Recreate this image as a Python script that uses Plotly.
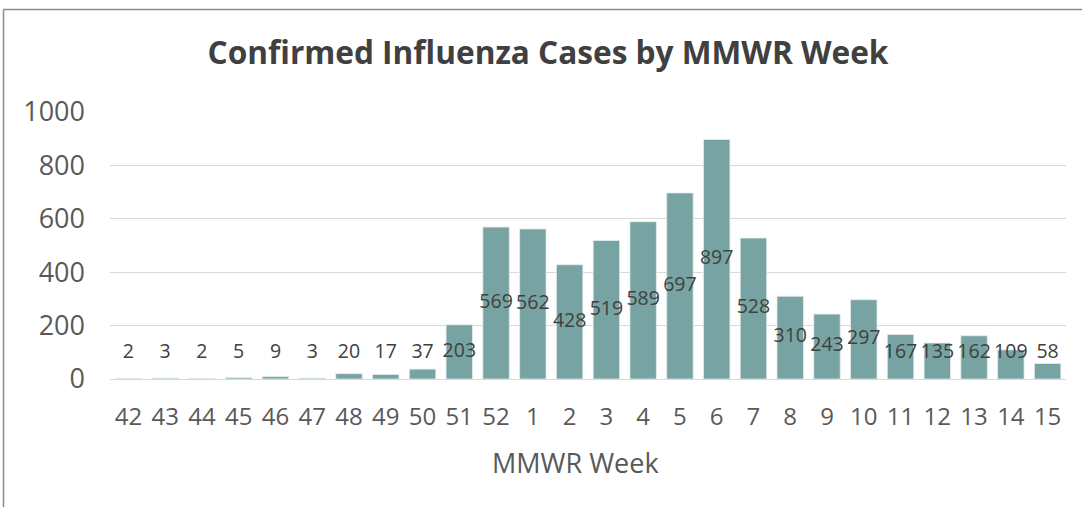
import plotly.graph_objects as go

# ---- data ----
weeks = ["42", "43", "44", "45", "46", "47", "48", "49", "50", "51", "52",
         "1", "2", "3", "4", "5", "6", "7", "8", "9", "10", "11", "12", "13", "14", "15"]
cases = [2, 3, 2, 5, 9, 3, 20, 17, 37, 203, 569,
         562, 428, 519, 589, 697, 897, 528, 310, 243, 297, 167, 135, 162, 109, 58]
y_ticks = [0, 200, 400, 600, 800, 1000]

title_text = "Confirmed Influenza Cases by MMWR Week"
x_title = "MMWR Week"

# ---- style ----
BAR_COLOR = "#77A3A2"
TEXT = "#595959"
DARK = "#404040"
GRID = "#D9D9D9"
FONT = "Open Sans"
LABEL_MIN = 97  # labels are centred in the bar, but never lower than this

W, H = 1082, 507
ML, MR, MT, MB = 110, 16, 112, 128
PW, PH = W - ML - MR, H - MT - MB


def px_to_paper_x(px):
    return (px - ML) / PW


def px_to_paper_y(py):
    return (H - MB - py) / PH


label_y = [max(v / 2, LABEL_MIN) for v in cases]

fig = go.Figure()
fig.add_trace(go.Bar(
    x=weeks, y=cases,
    marker=dict(color=BAR_COLOR, line=dict(color="#E6EEEE", width=0.8)),
    hoverinfo="x+y", showlegend=False,
))
fig.add_trace(go.Scatter(
    x=weeks, y=label_y, mode="text",
    text=[str(v) for v in cases],
    textposition="middle center",
    textfont=dict(family=FONT, size=19.5, color=DARK),
    hoverinfo="skip", showlegend=False,
))

fig.update_layout(
    width=W, height=H,
    margin=dict(l=ML, r=MR, t=MT, b=MB, autoexpand=False),
    plot_bgcolor="white", paper_bgcolor="white",
    bargap=0.28,
    title=dict(text=f"<b>{title_text}</b>", x=548 / W, xref="container", xanchor="center",
               y=1 - 53 / H, yref="container", yanchor="middle",
               font=dict(family=FONT, size=31.6, color=DARK)),
    xaxis=dict(type="category", categoryorder="array", categoryarray=weeks,
               range=[-0.5, len(weeks) - 0.5],
               showgrid=False, showline=False, ticks="", automargin=False,
               tickfont=dict(family=FONT, size=24, color=TEXT),
               ticklabelstandoff=21),
    yaxis=dict(range=[0, 1000], tickvals=y_ticks, showgrid=True, gridcolor=GRID,
               gridwidth=1.3, zeroline=True, zerolinecolor=GRID, zerolinewidth=1.3,
               showline=False, ticks="", automargin=False,
               tickfont=dict(family=FONT, size=27, color=TEXT),
               ticklabelstandoff=24),
    annotations=[dict(text=x_title, xref="paper", yref="paper",
                      x=px_to_paper_x(575.5), y=px_to_paper_y(463),
                      xanchor="center", yanchor="middle", showarrow=False,
                      font=dict(family=FONT, size=27, color=TEXT))],
    shapes=[
        dict(type="line", xref="paper", yref="paper",
             x0=px_to_paper_x(3.5), x1=px_to_paper_x(3.5),
             y0=px_to_paper_y(530), y1=px_to_paper_y(9.5),
             line=dict(color="#8C8C8C", width=1.5)),
        dict(type="line", xref="paper", yref="paper",
             x0=px_to_paper_x(3.5), x1=px_to_paper_x(1100),
             y0=px_to_paper_y(9.5), y1=px_to_paper_y(9.5),
             line=dict(color="#8C8C8C", width=1.5)),
    ],
)

fig.write_html("out.html",
               config={"displayModeBar": False},
               post_script="document.body.style.margin='0';document.body.style.overflow='hidden';")
